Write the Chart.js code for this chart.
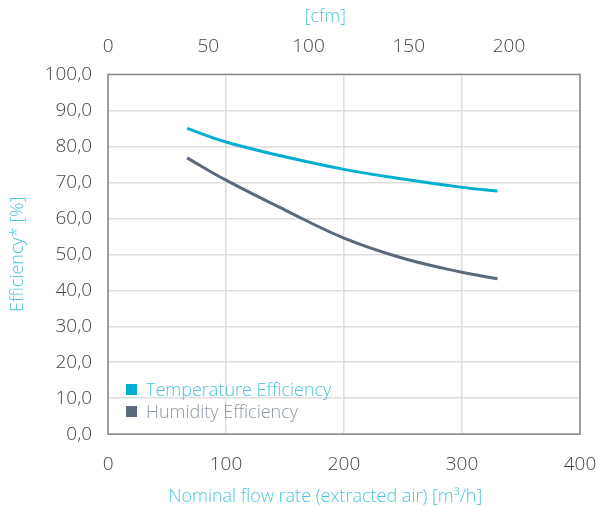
<!DOCTYPE html>
<html lang="en">
<head>
    <script src="https://cdn.jsdelivr.net/npm/chart.js"></script>
    <style>
        body { margin: 0; background: #fff; }
        .wrap { position: relative; width: 598px; height: 506px; font-family: 'Open Sans', sans-serif; }
        .legend { position: absolute; left: 126px; top: 378px; font-size: 18px; font-weight: 300; line-height: 22px; }
        .legend div { display: flex; align-items: center; }
        .legend span.box { display: inline-block; width: 11px; height: 11px; margin-right: 9px; }
    </style>
</head>
<body>
    <div class="wrap">
        <canvas id="effChart"></canvas>
        <div class="legend" id="legend"></div>
    </div>

    <script>
        // flow rate [m3/h] and efficiencies [%]
        const flowTemp = [67, 100, 150, 200, 250, 300, 330];
        const tempEff  = [85.0, 81.2, 77.1, 73.6, 70.9, 68.6, 67.6];
        const flowHum  = [67, 100, 150, 200, 250, 300, 330];
        const humEff   = [76.8, 70.6, 62.3, 54.5, 48.9, 45.0, 43.2];
        const cfmTicks = [0, 50, 100, 150, 200];
        const seriesNames = ['Temperature Efficiency', 'Humidity Efficiency'];
        const M3H_PER_CFM = 1.699;

        const cyan = '#00aed0';
        const slate = '#5a6a7a';
        const titleCol = '#4cc3df';
        const tickCol = '#444';
        const fam = 'Open Sans';
        const shiftLeft = '\u00a0'.repeat(8); // titles sit a bit left of centre in the original

        const frame = {
            id: 'frame',
            afterDatasetsDraw(chart) {
                const a = chart.chartArea, c = chart.ctx;
                c.save();
                c.strokeStyle = '#8a8a8a';
                c.lineWidth = 1.5;
                c.strokeRect(a.left, a.top, a.right - a.left, a.bottom - a.top);
                c.restore();
            }
        };

        const ctx = document.getElementById('effChart').getContext('2d');
        const chart = new Chart(ctx, {
            type: 'scatter',
            data: {
                datasets: [
                    {
                        label: seriesNames[0],
                        data: flowTemp.map((x, i) => ({ x: x, y: tempEff[i] })),
                        borderColor: cyan, backgroundColor: cyan,
                        showLine: true, pointRadius: 0, borderWidth: 3, tension: 0.4
                    },
                    {
                        label: seriesNames[1],
                        data: flowHum.map((x, i) => ({ x: x, y: humEff[i] })),
                        borderColor: slate, backgroundColor: slate,
                        showLine: true, pointRadius: 0, borderWidth: 3, tension: 0.4
                    }
                ]
            },
            options: {
                responsive: true,
                maintainAspectRatio: false,
                animation: false,
                layout: { padding: { left: 3, right: 0, top: 2, bottom: 0 } },
                plugins: { legend: { display: false }, tooltip: { enabled: false } },
                scales: {
                    x: {
                        type: 'linear', position: 'bottom', min: 0, max: 400,
                        afterFit: s => { s.paddingRight = 18; },
                        ticks: { stepSize: 100, color: tickCol, font: { family: fam, size: 19, weight: 300 }, padding: 19 },
                        grid: { color: '#dddddd', lineWidth: 1.5, drawTicks: false },
                        border: { display: false },
                        title: { display: true, text: 'Nominal flow rate (extracted air) [m³/h]' + shiftLeft, color: titleCol,
                                 font: { family: fam, size: 18, weight: 300, lineHeight: 1 }, padding: { top: -7, bottom: 0 } }
                    },
                    x2: {
                        type: 'linear', position: 'top', min: 0, max: 400 / M3H_PER_CFM,
                        afterBuildTicks: s => { s.ticks = cfmTicks.map(v => ({ value: v })); },
                        ticks: { color: tickCol, font: { family: fam, size: 19, weight: 300 }, padding: 8 },
                        grid: { display: false },
                        border: { display: false },
                        title: { display: true, text: '[cfm]' + shiftLeft, color: titleCol,
                                 font: { family: fam, size: 18, weight: 300 }, padding: { bottom: 0 } }
                    },
                    y: {
                        min: 0, max: 100,
                        ticks: { stepSize: 10, color: tickCol, font: { family: fam, size: 19, weight: 300 }, padding: 16,
                                 callback: v => v.toFixed(1).replace('.', ',') },
                        grid: { color: '#dddddd', lineWidth: 1.5, drawTicks: false },
                        border: { display: false },
                        title: { display: true, text: 'Efficiency* [%]', color: titleCol,
                                 font: { family: fam, size: 18, weight: 300 }, padding: { bottom: 0 } }
                    }
                }
            },
            plugins: [frame]
        });

        // legend drawn inside the plot, bottom left
        const leg = document.getElementById('legend');
        const textCols = [titleCol, '#8c99a5'];
        chart.data.datasets.forEach((ds, i) => {
            const row = document.createElement('div');
            row.innerHTML = '<span class="box" style="background:' + ds.borderColor + '"></span>' +
                            '<span style="color:' + textCols[i] + '">' + ds.label + '</span>';
            leg.appendChild(row);
        });
    </script>
</body>
</html>
